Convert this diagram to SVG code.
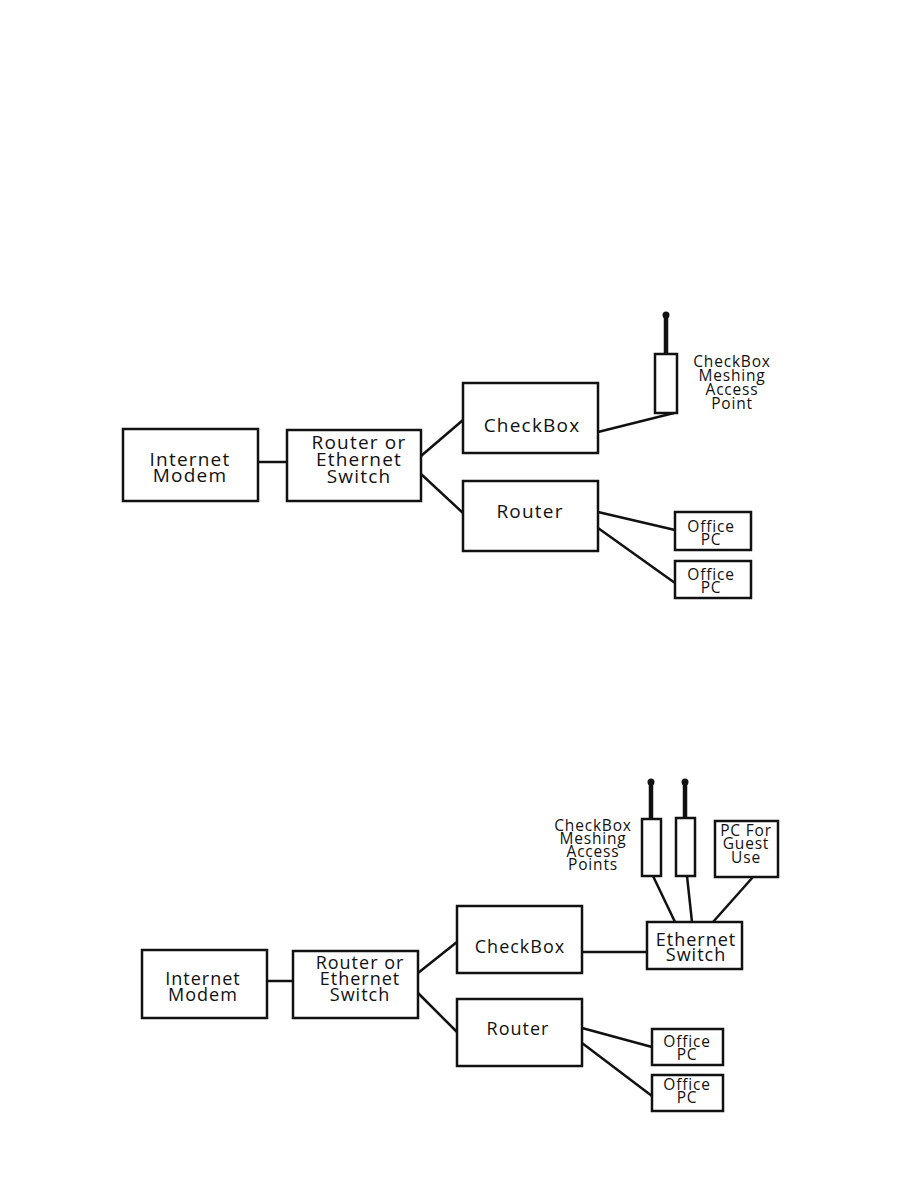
<svg xmlns="http://www.w3.org/2000/svg" width="918" height="1188" viewBox="0 0 918 1188">
<style>
.box{fill:#fff;stroke:#111;stroke-width:2.5}
.ln{fill:none;stroke:#111;stroke-width:2.5}
.ant{stroke:#111;stroke-width:4.5;stroke-linecap:round}
text{font-family:"Open Sans","DejaVu Sans",sans-serif;fill:#111;text-anchor:middle}
.big{font-size:19px;letter-spacing:1.2px}
.mid{font-size:18px;letter-spacing:1px}
.sm{font-size:15.5px;letter-spacing:0.8px}
</style>
<rect width="918" height="1188" fill="#fff"/>
<g id="connectors">
<line class="ln" x1="258" y1="462" x2="287" y2="462"/>
<line class="ln" x1="421" y1="456" x2="463" y2="420"/>
<line class="ln" x1="421" y1="474" x2="463" y2="513"/>
<line class="ln" x1="598" y1="432" x2="674" y2="413"/>
<line class="ln" x1="598" y1="512" x2="675" y2="530"/>
<line class="ln" x1="598" y1="528" x2="675" y2="583"/>
<line class="ln" x1="267" y1="981" x2="293" y2="981"/>
<line class="ln" x1="418" y1="973" x2="457" y2="942"/>
<line class="ln" x1="418" y1="993" x2="457" y2="1032"/>
<line class="ln" x1="582" y1="952" x2="647" y2="952"/>
<line class="ln" x1="653" y1="876" x2="675" y2="922"/>
<line class="ln" x1="687" y1="876" x2="692" y2="922"/>
<line class="ln" x1="753" y1="877" x2="713" y2="922"/>
<line class="ln" x1="582" y1="1028" x2="652" y2="1047"/>
<line class="ln" x1="582" y1="1043" x2="652" y2="1096"/>
</g>
<g id="modem1"><rect class="box" x="123" y="429" width="135" height="72"/><text class="big" x="190" y="466">Internet</text><text class="big" x="190" y="482">Modem</text></g>
<g id="switch1"><rect class="box" x="287" y="430" width="134" height="71"/><text class="big" x="359" y="449">Router or</text><text class="big" x="359" y="466">Ethernet</text><text class="big" x="359" y="483">Switch</text></g>
<g id="checkbox1"><rect class="box" x="463" y="383" width="135" height="70"/><text class="big" x="532" y="432">CheckBox</text></g>
<g id="router1"><rect class="box" x="463" y="481" width="135" height="70"/><text class="big" x="530" y="518">Router</text></g>
<g id="ap1"><line class="ant" x1="666" y1="316" x2="666" y2="354"/><circle cx="666" cy="315" r="3.5" fill="#111"/><rect class="box" x="655" y="354" width="22" height="59"/></g>
<g id="aplabel1"><text class="sm" x="732" y="367">CheckBox</text><text class="sm" x="732" y="381">Meshing</text><text class="sm" x="732" y="395">Access</text><text class="sm" x="732" y="409">Point</text></g>
<g id="pc1a"><rect class="box" x="675" y="512" width="76" height="38"/><text class="sm" x="711" y="532">Office</text><text class="sm" x="711" y="545">PC</text></g>
<g id="pc1b"><rect class="box" x="675" y="561" width="76" height="37"/><text class="sm" x="711" y="580">Office</text><text class="sm" x="711" y="593">PC</text></g>

<g id="modem2"><rect class="box" x="142" y="950" width="125" height="68"/><text class="mid" x="203" y="985">Internet</text><text class="mid" x="203" y="1001">Modem</text></g>
<g id="switch2"><rect class="box" x="293" y="951" width="125" height="67"/><text class="mid" x="360" y="969">Router or</text><text class="mid" x="360" y="985">Ethernet</text><text class="mid" x="360" y="1001">Switch</text></g>
<g id="checkbox2"><rect class="box" x="457" y="906" width="125" height="67"/><text class="mid" x="520" y="953">CheckBox</text></g>
<g id="router2"><rect class="box" x="457" y="999" width="125" height="67"/><text class="mid" x="518" y="1035">Router</text></g>
<g id="ethswitch"><rect class="box" x="647" y="922" width="95" height="47"/><text class="mid" x="696" y="946">Ethernet</text><text class="mid" x="696" y="961">Switch</text></g>
<g id="ap2a"><line class="ant" x1="651" y1="783" x2="651" y2="819"/><circle cx="651" cy="782" r="3.5" fill="#111"/><rect class="box" x="642" y="819" width="19" height="57"/></g>
<g id="ap2b"><line class="ant" x1="685" y1="783" x2="685" y2="818"/><circle cx="685" cy="782" r="3.5" fill="#111"/><rect class="box" x="676" y="818" width="19" height="58"/></g>
<g id="guestpc"><rect class="box" x="715" y="821" width="63" height="56"/><text class="sm" x="746" y="836">PC For</text><text class="sm" x="746" y="849">Guest</text><text class="sm" x="746" y="863">Use</text></g>
<g id="aplabel2"><text class="sm" x="593" y="831">CheckBox</text><text class="sm" x="593" y="844">Meshing</text><text class="sm" x="593" y="857">Access</text><text class="sm" x="593" y="870">Points</text></g>
<g id="pc2a"><rect class="box" x="652" y="1029" width="71" height="36"/><text class="sm" x="687" y="1047">Office</text><text class="sm" x="687" y="1060">PC</text></g>
<g id="pc2b"><rect class="box" x="652" y="1075" width="71" height="36"/><text class="sm" x="687" y="1090">Office</text><text class="sm" x="687" y="1103">PC</text></g>
</svg>
